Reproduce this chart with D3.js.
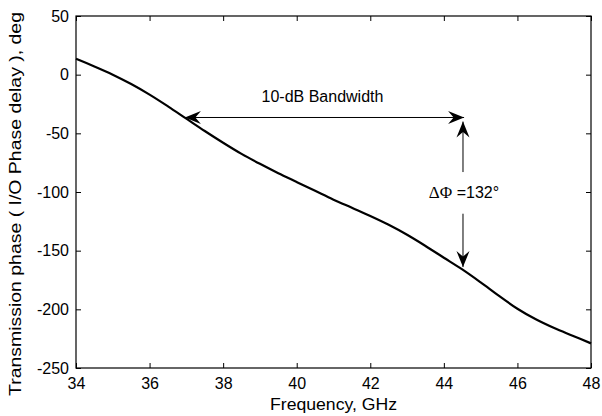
<!DOCTYPE html>
<html>
<head>
<meta charset="utf-8">
<script src="https://cdn.jsdelivr.net/npm/d3@7.9.0/dist/d3.min.js"></script>
<style>
  html, body { margin: 0; padding: 0; background: #fff; }
  svg text { font-family: "Liberation Sans", Arial, Helvetica, sans-serif; fill: #000; }
</style>
</head>
<body>
<svg id="chart" width="602" height="416"></svg>
<script>
// measured phase response
const freq = [34, 34.5, 35, 35.5, 36, 36.5, 37, 37.5, 38, 38.5, 39, 39.5, 40, 40.5, 41,
  41.5, 42, 42.5, 43, 43.5, 44, 44.5, 45, 45.5, 46, 46.5, 47, 47.5, 48];
const phase = [13.5, 7, 0, -8, -17, -27, -37.5, -48, -58, -67.5, -76, -84, -91.5, -99, -106.5,
  -113.5, -120.5, -128, -136.5, -146, -156, -166, -177, -188.5, -199.5, -208.5, -216, -222.5, -229];

const xTicks = [34, 36, 38, 40, 42, 44, 46, 48];
const yTicks = [50, 0, -50, -100, -150, -200, -250];

// annotation positions in data units
const bandEdges = [36.96, 44.55];
const bandPhase = -36.5;
const deltaFreq = 44.52;
const deltaUpper = [-83, -40];
const deltaLower = [-118.5, -164];
const deltaLabelPhase = -100.5;

const margin = { top: 16, right: 11, bottom: 48, left: 76 };
const width = 602 - margin.left - margin.right;
const height = 416 - margin.top - margin.bottom;

const svg = d3.select('#chart');
const g = svg.append('g').attr('transform', `translate(${margin.left},${margin.top})`);

const x = d3.scaleLinear().domain([34, 48]).range([0, width]);
const y = d3.scaleLinear().domain([-250, 50]).range([height, 0]);

// arrow head, MATLAB style with notched back
const defs = svg.append('defs');
defs.append('marker')
  .attr('id', 'head')
  .attr('markerUnits', 'userSpaceOnUse')
  .attr('viewBox', '-17 -8 18 16')
  .attr('markerWidth', 18)
  .attr('markerHeight', 16)
  .attr('refX', 0)
  .attr('refY', 0)
  .attr('orient', 'auto-start-reverse')
  .append('path')
  .attr('d', 'M0,0 L-16,-6.5 L-10.5,0 L-16,6.5 Z')
  .attr('fill', '#000');

// ticks (inside, mirrored on all four sides)
const tickLen = 5;
const axisB = g.append('g').attr('transform', `translate(0,${height})`)
  .call(d3.axisBottom(x).tickValues(xTicks).tickSizeInner(-tickLen).tickSizeOuter(0).tickPadding(10));
const axisL = g.append('g')
  .call(d3.axisLeft(y).tickValues(yTicks).tickSizeInner(-tickLen).tickSizeOuter(0).tickPadding(7));
g.append('g').call(d3.axisTop(x).tickValues(xTicks).tickSizeInner(-tickLen).tickSizeOuter(0).tickFormat(''));
g.append('g').attr('transform', `translate(${width},0)`)
  .call(d3.axisRight(y).tickValues(yTicks).tickSizeInner(-tickLen).tickSizeOuter(0).tickFormat(''));

g.selectAll('.domain').remove();
g.selectAll('.tick line').attr('stroke', '#000');
g.selectAll('.tick text').attr('font-size', 16).attr('font-family', '"Liberation Sans", Arial, sans-serif');
axisL.selectAll('.tick text').text(d => d < 0 ? '-' + Math.abs(d) : d);

// box
g.append('rect')
  .attr('x', 0).attr('y', 0)
  .attr('width', width).attr('height', height)
  .attr('fill', 'none').attr('stroke', '#000').attr('stroke-width', 1.2);

// curve
const line = d3.line()
  .x((d, i) => x(freq[i]))
  .y(d => y(d))
  .curve(d3.curveCatmullRom);

g.append('path')
  .datum(phase)
  .attr('d', line)
  .attr('fill', 'none')
  .attr('stroke', '#000')
  .attr('stroke-width', 2.2);

// bandwidth double arrow
g.append('line')
  .attr('x1', x(bandEdges[0])).attr('x2', x(bandEdges[1]))
  .attr('y1', y(bandPhase)).attr('y2', y(bandPhase))
  .attr('stroke', '#000').attr('stroke-width', 1)
  .attr('marker-start', 'url(#head)').attr('marker-end', 'url(#head)');

g.append('text')
  .attr('x', x(d3.mean(bandEdges)) - 2)
  .attr('y', y(bandPhase) - 15)
  .attr('text-anchor', 'middle')
  .attr('font-size', 16)
  .text('10-dB Bandwidth');

// delta phase arrows
g.append('line')
  .attr('x1', x(deltaFreq)).attr('x2', x(deltaFreq))
  .attr('y1', y(deltaUpper[0])).attr('y2', y(deltaUpper[1]))
  .attr('stroke', '#000').attr('stroke-width', 1)
  .attr('marker-end', 'url(#head)');
g.append('line')
  .attr('x1', x(deltaFreq)).attr('x2', x(deltaFreq))
  .attr('y1', y(deltaLower[0])).attr('y2', y(deltaLower[1]))
  .attr('stroke', '#000').attr('stroke-width', 1)
  .attr('marker-end', 'url(#head)');

const dLabel = g.append('text')
  .attr('x', x(deltaFreq) + 1)
  .attr('y', y(deltaLabelPhase))
  .attr('dy', '0.35em')
  .attr('text-anchor', 'middle')
  .attr('font-size', 16);
dLabel.append('tspan')
  .attr('font-family', '"Liberation Serif", "DejaVu Serif", serif')
  .attr('font-size', 17)
  .text('\u0394\u03A6');
dLabel.append('tspan').text(' =132\u00B0');

// axis labels
svg.append('text')
  .attr('x', margin.left + width / 2)
  .attr('y', 410)
  .attr('text-anchor', 'middle')
  .attr('font-size', 16)
  .attr('textLength', 127)
  .attr('lengthAdjust', 'spacingAndGlyphs')
  .text('Frequency, GHz');

svg.append('text')
  .attr('transform', 'translate(21,204) rotate(-90)')
  .attr('text-anchor', 'middle')
  .attr('font-size', 16.5)
  .attr('textLength', 384)
  .attr('lengthAdjust', 'spacingAndGlyphs')
  .text('Transmission phase ( I/O Phase delay ), deg');
</script>
</body>
</html>
